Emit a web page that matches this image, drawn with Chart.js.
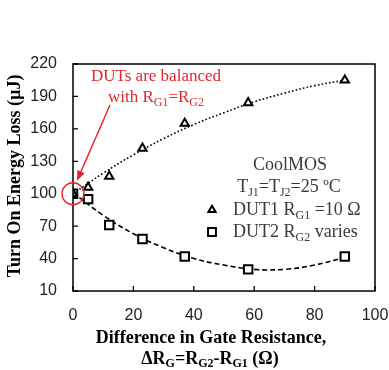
<!DOCTYPE html>
<html>
<head>
<meta charset="utf-8">
<script src="https://cdn.jsdelivr.net/npm/chart.js@4.4.1/dist/chart.umd.min.js"></script>
<style>
html, body { margin: 0; padding: 0; background: #fff; }
#wrap { width: 389px; height: 370px; }
</style>
</head>
<body>
<div id="wrap"><canvas id="chart"></canvas></div>
<script>
// data
const dRg = [0, 5, 12, 23, 37, 58, 90];
const dut1 = [100, 106, 116, 142, 165, 184, 205];
const dut2 = [100, 95, 71, 58, 42, 30, 42];
// trendlines (read from the dotted / dashed curves)
const trendX = [0, 10, 20, 30, 40, 50, 60, 70, 80, 90];
const trend1 = [100, 119, 136, 151, 164, 175, 185, 193, 200, 205];
const trend2 = [101, 80, 63, 50, 40, 34, 30, 30, 34, 41];
const yTicks = [10, 40, 70, 100, 130, 160, 190, 220];
const xTicks = [0, 20, 40, 60, 80, 100];

const serif = '"Liberation Serif", "Times New Roman", serif';
const sans = '"Liberation Sans", Arial, sans-serif';
const red = '#e3262c';

function pts(xs, ys) {
	return xs.map(function(x, i) { return {x: x, y: ys[i]}; });
}

// segments: [text, isSub]
function richWidth(ctx, segs, size, weight) {
	var w = 0;
	segs.forEach(function(s) {
		ctx.font = weight + ' ' + (s[1] ? Math.round(size * 0.68) : size) + 'px ' + serif;
		w += ctx.measureText(s[0]).width;
	});
	return w;
}
function drawRich(ctx, segs, x, y, size, align, color, weight) {
	weight = weight || 'normal';
	var w = richWidth(ctx, segs, size, weight);
	var cx = align == 'center' ? x - w / 2 : x;
	ctx.fillStyle = color;
	ctx.textBaseline = 'middle';
	ctx.textAlign = 'left';
	segs.forEach(function(s) {
		ctx.font = weight + ' ' + (s[1] ? Math.round(size * 0.68) : size) + 'px ' + serif;
		ctx.fillText(s[0], cx, s[1] ? y + size * 0.3 : y);
		cx += ctx.measureText(s[0]).width;
	});
}

const extras = {
	id: 'extras',
	afterDraw: function(chart) {
		var ctx = chart.ctx;
		var a = chart.chartArea;
		var xs = chart.scales.x, ys = chart.scales.y;
		ctx.save();
		// frame
		ctx.strokeStyle = '#000';
		ctx.lineWidth = 1.5;
		ctx.strokeRect(a.left, a.top, a.right - a.left, a.bottom - a.top);
		// inward ticks
		ctx.lineWidth = 1.3;
		ctx.beginPath();
		yTicks.forEach(function(v) {
			var py = ys.getPixelForValue(v);
			ctx.moveTo(a.left, py); ctx.lineTo(a.left + 5, py);
		});
		xTicks.forEach(function(v) {
			var px = xs.getPixelForValue(v);
			ctx.moveTo(px, a.bottom); ctx.lineTo(px, a.bottom - 5);
		});
		ctx.stroke();

		// axis titles
		ctx.save();
		ctx.translate(15, 176);
		ctx.rotate(-Math.PI / 2);
		drawRich(ctx, [['Turn On Energy Loss (\u00b5J)', false]], 0, 0, 18, 'center', '#000', 'bold');
		ctx.restore();
		drawRich(ctx, [['Difference in Gate Resistance,', false]], 211, 338, 18, 'center', '#000', 'bold');
		drawRich(ctx, [['\u0394R', false], ['G', true], ['=R', false], ['G2', true], ['-R', false], ['G1', true], [' (\u03a9)', false]], 210, 359, 18, 'center', '#000', 'bold');

		// annotation
		drawRich(ctx, [['DUTs are balanced', false]], 156, 77, 17, 'center', red);
		drawRich(ctx, [['with R', false], ['G1', true], ['=R', false], ['G2', true]], 156, 98, 17, 'center', red);
		var cx0 = xs.getPixelForValue(0), cy0 = ys.getPixelForValue(100);
		ctx.strokeStyle = red;
		ctx.lineWidth = 1.4;
		ctx.beginPath();
		ctx.arc(cx0, cy0, 11, 0, Math.PI * 2);
		ctx.stroke();
		var x1 = 110, y1 = 105, x2 = cx0 + 4, y2 = cy0 - 13;
		var ang = Math.atan2(y2 - y1, x2 - x1);
		ctx.beginPath();
		ctx.moveTo(x1, y1);
		ctx.lineTo(x2 - 8 * Math.cos(ang), y2 - 8 * Math.sin(ang));
		ctx.stroke();
		ctx.fillStyle = red;
		ctx.beginPath();
		ctx.moveTo(x2, y2);
		ctx.lineTo(x2 - 10 * Math.cos(ang) + 4 * Math.sin(ang), y2 - 10 * Math.sin(ang) - 4 * Math.cos(ang));
		ctx.lineTo(x2 - 10 * Math.cos(ang) - 4 * Math.sin(ang), y2 - 10 * Math.sin(ang) + 4 * Math.cos(ang));
		ctx.closePath();
		ctx.fill();

		// legend block
		var grey = '#3a3a3a';
		drawRich(ctx, [['CoolMOS', false]], 290, 165, 18, 'center', grey);
		drawRich(ctx, [['T', false], ['J1', true], ['=T', false], ['J2', true], ['=25 \u00baC', false]], 289, 187, 18, 'center', grey);
		drawRich(ctx, [['DUT1 R', false], ['G1', true], [' =10 \u03a9', false]], 233, 210, 18, 'left', grey);
		drawRich(ctx, [['DUT2 R', false], ['G2', true], [' varies', false]], 233, 232, 18, 'left', grey);
		ctx.strokeStyle = '#000';
		ctx.lineWidth = 2;
		ctx.fillStyle = '#fff';
		Chart.helpers.drawPoint(ctx, {pointStyle: 'triangle', radius: 4.2, rotation: 0}, 212, 210);
		ctx.stroke();
		Chart.helpers.drawPoint(ctx, {pointStyle: 'rect', radius: 5.6, rotation: 0}, 212, 232);
		ctx.stroke();
		ctx.restore();
	}
};

new Chart(document.getElementById('chart'), {
	type: 'scatter',
	data: {
		datasets: [
			{
				data: pts(dRg, dut1),
				pointStyle: 'triangle',
				pointRadius: 4.8,
				borderColor: '#000',
				backgroundColor: '#fff',
				borderWidth: 2,
				order: 0
			},
			{
				data: pts(dRg, dut2),
				pointStyle: 'rect',
				pointRadius: 6,
				borderColor: '#000',
				backgroundColor: '#fff',
				borderWidth: 2,
				order: 0
			},
			{
				data: pts(trendX, trend1),
				showLine: true,
				pointRadius: 0,
				borderColor: '#000',
				borderWidth: 1.6,
				borderDash: [1.6, 2.2],
				tension: 0.4,
				order: 1
			},
			{
				data: pts(trendX, trend2),
				showLine: true,
				pointRadius: 0,
				borderColor: '#000',
				borderWidth: 1.6,
				borderDash: [5, 3],
				tension: 0.4,
				order: 1
			}
		]
	},
	options: {
		responsive: true,
		maintainAspectRatio: false,
		animation: false,
		layout: {padding: {top: 64, right: 14, left: 0, bottom: 0}},
		plugins: {legend: {display: false}, tooltip: {enabled: false}},
		scales: {
			x: {
				min: 0, max: 100,
				grid: {display: false, drawTicks: false},
				border: {display: false},
				ticks: {stepSize: 20, padding: 15, color: '#222', font: {family: sans, size: 16}},
				afterFit: function(s) { s.height = 79; s.paddingLeft = 0; s.paddingRight = 0; }
			},
			y: {
				min: 10, max: 220,
				grid: {display: false, drawTicks: false},
				border: {display: false},
				ticks: {stepSize: 30, padding: 16, color: '#222', font: {family: sans, size: 16}},
				afterFit: function(s) { s.width = 73; s.paddingTop = 0; s.paddingBottom = 0; }
			}
		}
	},
	plugins: [extras]
});
</script>
</body>
</html>
